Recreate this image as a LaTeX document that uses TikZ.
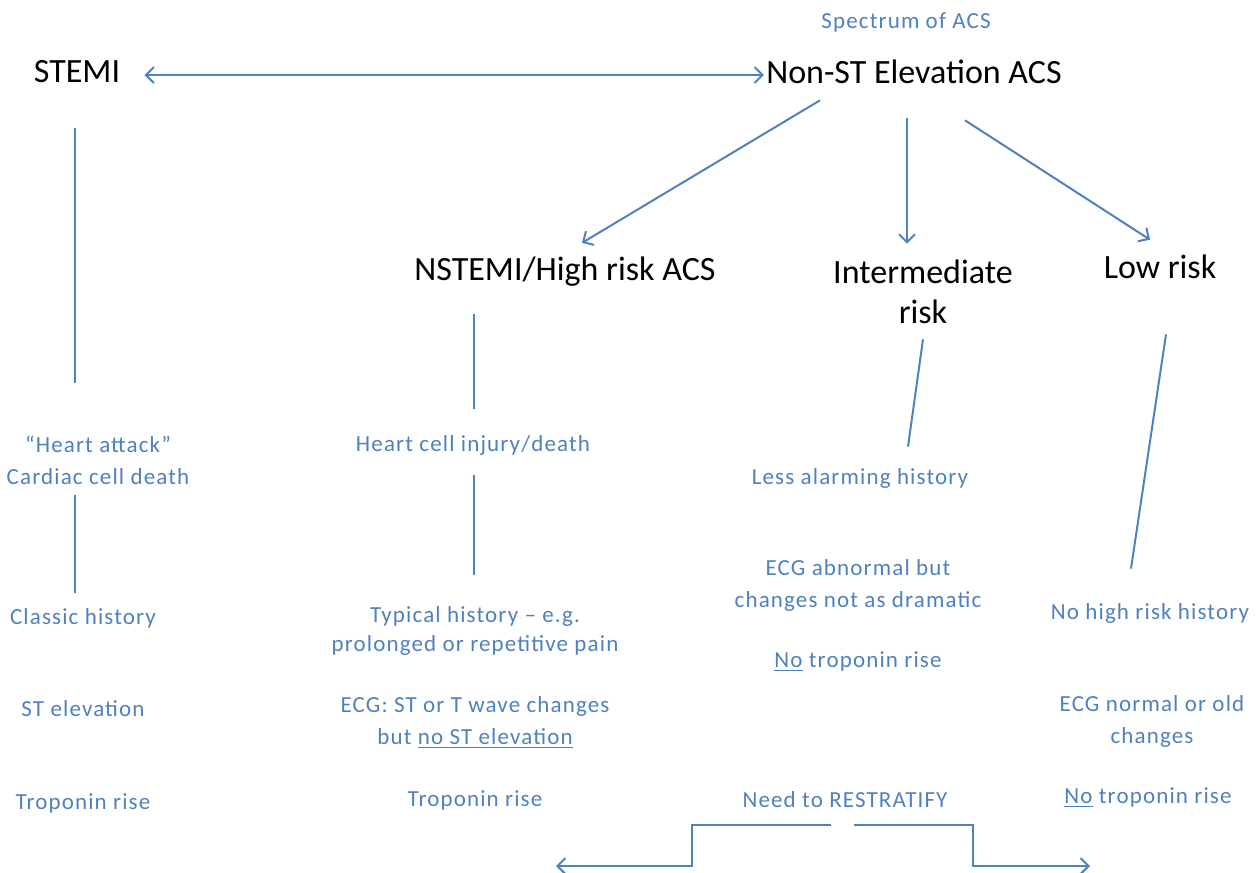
\documentclass[tikz,border=0pt]{standalone}
\usepackage{fontspec}
\setmainfont{Carlito}
\newfontfamily\notefont[Ligatures=TeX, LetterSpace=5]{Carlito}
\usepackage{tikz}
\usetikzlibrary{arrows.meta}
\definecolor{acsblue}{RGB}{79,129,189}
\tikzset{
	head/.style={font=\fontsize{17}{20}\selectfont, text=black, inner sep=1pt, align=center},
	note/.style={font=\notefont\fontsize{11.5}{16}\selectfont, text=acsblue, inner sep=1pt, align=center},
	link/.style={draw=acsblue, line width=1pt},
	tip/.tip={Straight Barb[length=4pt,width=8pt]},
	arr/.style={link, -tip},
}

\begin{document}
\begin{tikzpicture}[x=0.5pt, y=-0.5pt]
	    		\useasboundingbox (0,0) rectangle (1260,873);
	    		\node[note] (spec) at (906,22) {Spectrum of ACS};
	    		\node[head] (nste) at (914,72) {Non-ST Elevation ACS};
	    		\node[head] (stemi) at (77,72) {STEMI};
	    		\node[head] (high) at (565,272) {NSTEMI/High risk ACS};
	    		\node[head] (inter) at (923,292) {Intermediate\\risk};
	    		\node[head] (low) at (1160,267) {Low risk};
	    		\node[note] (heart) at (98,460) {“Heart attack”\\Cardiac cell death};
	    		\node[note] (classic) at (83,618) {Classic history};
	    		\node[note] (stelev) at (83,709) {ST elevation};
	    		\node[note] (tropA) at (83,803) {Troponin rise};
	    		\node[note] (injury) at (473,445) {Heart cell injury/death};
	    		\node[note, font=\notefont\fontsize{11.5}{14.5}\selectfont] (typical) at (475,631) {Typical history -- e.g.\\prolonged or repetitive pain};
	    		\node[note] (ecgB) at (475,723) {ECG: ST or T wave changes\\but \underline{no ST elevation}};
	    		\node[note] (tropB) at (475,800) {Troponin rise};
	    		\node[note] (less) at (860,478) {Less alarming history};
	    		\node[note] (ecgC) at (858,585) {ECG abnormal but\\changes not as dramatic};
	    		\node[note] (tropC) at (858,662) {\underline{No} troponin rise};
	    		\node[note] (restrat) at (845,800) {Need to RESTRATIFY};
	    		\node[note] (nohigh) at (1150,613) {No high risk history};
	    		\node[note] (ecgD) at (1152,721) {ECG normal or old\\changes};
	    		\node[note] (tropD) at (1148,798) {\underline{No} troponin rise};
	    		\coordinate (outL) at (556,866);
	    		\coordinate (outR) at (1090,866);
	    		\draw[link, tip-tip, shorten <=11pt] ([shift={(0,3)}]stemi.east) -- ([shift={(0,3)}]nste.west);
	    		\draw[arr] ([shift={(-94,14)}]nste.south) -- ([shift={(17,-12)}]high.north);
	    		\draw[arr] ([shift={(-7,32)}]nste.south) -- ([shift={(-16,-14)}]inter.north);
	    		\draw[arr] ([shift={(51,34)}]nste.south) -- ([shift={(-10,-13)}]low.north);
	    		\draw[link] ([shift={(-2,42)}]stemi.south) -- ([shift={(-23,-50)}]heart.north);
	    		\draw[link] ([shift={(-23,8)}]heart.south) -- ([shift={(-8,-13)}]classic.north);
	    		\draw[link] ([shift={(-91,25)}]high.south) -- ([shift={(1,-24)}]injury.north);
	    		\draw[link] ([shift={(1,18)}]injury.south) -- ([shift={(-1,-29)}]typical.north);
	    		\draw[link] ([shift={(0,13)}]inter.south) -- ([shift={(48,-19)}]less.north);
	    		\draw[link] ([shift={(6,53)}]low.south) -- ([shift={(-19,-32)}]nohigh.north);
	    		\draw[arr] ([shift={(-14,15)}]restrat.south) -- ++(-139,0) |- (outL);
	    		\draw[arr] ([shift={(9,15)}]restrat.south) -- ++(119,0) |- (outR);
\end{tikzpicture}
\end{document}
